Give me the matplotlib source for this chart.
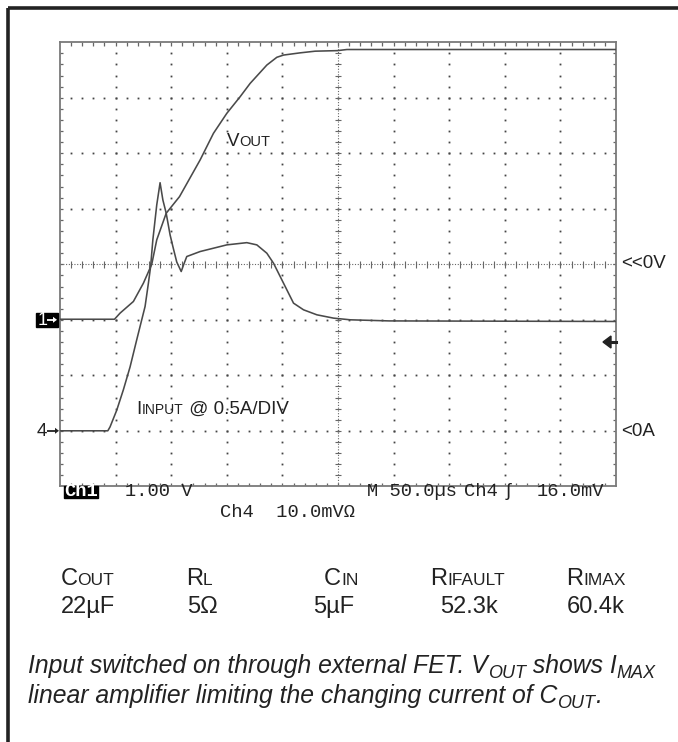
import numpy as np
import matplotlib.pyplot as plt
from matplotlib.patches import Rectangle, Polygon

W, H = 678, 742

# Scope traces in screen divisions (10 x 8 graticule)
vout_x = [0.0, 0.98, 1.08, 1.32, 1.50, 1.65, 1.74, 1.91, 2.15, 2.52, 2.76, 3.00,
          3.24, 3.42, 3.72, 3.90, 4.02, 4.32, 4.59, 4.99, 5.16, 10.0]
vout_y = [3.01, 3.01, 3.12, 3.33, 3.66, 4.00, 4.44, 4.92, 5.22, 5.88, 6.36, 6.72,
          7.02, 7.26, 7.59, 7.73, 7.77, 7.81, 7.84, 7.85, 7.87, 7.87]

iin_x = [0.0, 0.86, 0.90, 1.02, 1.14, 1.26, 1.38, 1.44, 1.53, 1.59, 1.63, 1.67,
         1.74, 1.80, 1.85, 1.91, 1.98, 2.03, 2.10, 2.18, 2.23, 2.28, 2.52, 3.00,
         3.36, 3.54, 3.72, 3.84, 4.02, 4.20, 4.38, 4.62, 4.92, 5.22, 5.92, 10.0]
iin_y = [1.00, 1.00, 1.07, 1.37, 1.74, 2.15, 2.64, 2.88, 3.24, 3.66, 3.96, 4.44,
         5.07, 5.47, 5.16, 4.92, 4.53, 4.32, 4.04, 3.87, 4.01, 4.14, 4.23, 4.35,
         4.39, 4.35, 4.20, 4.02, 3.66, 3.30, 3.18, 3.09, 3.03, 3.00, 2.98, 2.97]

ch1_level = 3.0
ch4_level = 1.0
trig_level = 2.6

# scope readout
readout_top = ["1.00 V", "M 50.0\u00b5s", "Ch4", "\u0283", "16.0mV"]
readout_bottom = "Ch4  10.0mV\u03a9"

# component table
head_main = ["C", "R", "C", "R", "R"]
head_sub = ["OUT", "L", "IN", "IFAULT", "IMAX"]
values = ["22\u00b5F", "5\u03a9", "5\u00b5F", "52.3k", "60.4k"]

fig = plt.figure(figsize=(W / 100, H / 100), dpi=100)
fig.patch.set_facecolor('white')

# graticule axes
sc = fig.add_axes([60 / W, (H - 486.3) / H, 556 / W, 444 / H])
sc.set_xlim(0, 10)
sc.set_ylim(0, 8)
sc.set_xticks([])
sc.set_yticks([])
for s in sc.spines.values():
    s.set_color('#7a7a7a')
    s.set_linewidth(1.3)

dot = dict(ls='none', marker='s', ms=1.3, mec='none', color='#444444')
minor = np.arange(1, 50) * 0.2
for gx in [1, 2, 3, 4, 6, 7, 8, 9]:
    yy = minor[minor < 8]
    sc.plot(np.full_like(yy, gx), yy, **dot)
for gy in [1, 2, 3, 5, 6, 7]:
    xx = minor[minor < 10]
    sc.plot(xx, np.full_like(xx, gy), **dot)

# centre cross with fine dots and small ticks
sc.plot([5, 5], [0, 8], ls=(0, (1, 1.5)), lw=0.8, color='#666666')
sc.plot([0, 10], [4, 4], ls=(0, (1, 1.5)), lw=0.8, color='#666666')
yy = minor[minor < 8]
xx = minor[minor < 10]
sc.hlines(yy, 5 - 0.06, 5 + 0.06, color='#666666', lw=0.8)
sc.vlines(xx, 4 - 0.06, 4 + 0.06, color='#666666', lw=0.8)

# edge ticks
sc.vlines(xx, 8 - 0.06, 8, color='#666666', lw=0.9)
sc.vlines(xx, 0, 0.06, color='#666666', lw=0.9)
sc.hlines(yy, 0, 0.055, color='#666666', lw=0.9)
sc.hlines(yy, 10 - 0.055, 10, color='#666666', lw=0.9)

# traces
sc.plot(iin_x, iin_y, color='#4a4a4a', lw=1.15, zorder=5)
sc.plot(vout_x, vout_y, color='#4a4a4a', lw=1.15, zorder=5)

# overlay in pixel coordinates
ov = fig.add_axes([0, 0, 1, 1], zorder=10)
ov.set_xlim(0, W)
ov.set_ylim(H, 0)
ov.axis('off')
rend = fig.canvas.get_renderer()

sans = ['Liberation Sans', 'DejaVu Sans']
mono = ['Liberation Mono', 'DejaVu Sans Mono']


def run(x, y, parts, **kw):
    # write text pieces one after another on a common baseline
    for s, size, dy in parts:
        t = ov.text(x, y + dy, s, fontsize=size, ha='left', va='baseline', **kw)
        x += t.get_window_extent(renderer=rend).width
    return x


def small_arrow(x0, x1, y, col):
    ov.plot([x0, x1 - 3], [y, y], color=col, lw=1.3, solid_capstyle='butt')
    ov.add_patch(Polygon([[x1, y], [x1 - 4, y - 3], [x1 - 4, y + 3]], closed=True,
                         color=col, lw=0))


# outer frame (left and top edges)
ov.plot([8, 8], [H, 8], color='#222222', lw=2.6, solid_capstyle='butt')
ov.plot([8, W], [8, 8], color='#222222', lw=2.6, solid_capstyle='butt')

# labels inside the screen
run(226.7, 146, [("V", 13.5, 0), ("OUT", 10.5, 0)], family=sans, color='#222222')
run(136.7, 413.5, [("I", 13.5, 0), ("INPUT", 10, 0), (" @ 0.5A/DIV", 13.5, 0)],
    family=sans, color='#222222')
ov.text(621, 264, "<<0V", fontsize=13.5, family=sans, va='center', ha='left',
        color='#222222')
ov.text(621, 431, "<0A", fontsize=13.5, family=sans, va='center', ha='left',
        color='#222222')

# channel markers
c1y = 486.3 - ch1_level * 55.5
c4y = 486.3 - ch4_level * 55.5
ov.add_patch(Rectangle((36, c1y - 7), 22, 14.5, color='black'))
ov.text(38, c1y + 5.5, "1", fontsize=13, family=sans, color='white',
        ha='left', va='baseline')
small_arrow(47, 57, c1y, 'white')
ov.text(37, c4y + 5.5, "4", fontsize=13.5, family=sans, color='#222222',
        ha='left', va='baseline')
small_arrow(47, 59, c4y, '#222222')

# trigger marker
ty = 486.3 - trig_level * 55.5
ov.add_patch(Polygon([[603, ty], [611, ty - 6], [611, ty + 6]], closed=True,
                     color='#222222'))
ov.plot([610, 616], [ty, ty], color='#222222', lw=2.2)

# readout
ov.add_patch(Rectangle((64, 485.5), 34, 12.5, color='black'))
ov.text(81, 496, "Ch1", fontsize=13.5, family=mono, color='white', ha='center',
        va='baseline', fontweight='bold')
for s, x in zip(readout_top, [125, 367, 464, 503, 537]):
    ov.text(x, 496, s, fontsize=13.5, family=mono, color='#222222', ha='left',
            va='baseline')
ov.text(220, 517, readout_bottom, fontsize=13.5, family=mono, color='#222222',
        ha='left', va='baseline')

# component table
for hm, hs, x in zip(head_main, head_sub, [60.5, 186, 324, 430, 566]):
    run(x, 585, [(hm, 17, 0), (hs, 12.5, 0)], family=sans, color='#222222')
for v, x in zip(values, [60.5, 187, 313, 440, 567]):
    ov.text(x, 613, v, fontsize=17, family=sans, color='#222222', ha='left',
            va='baseline')

# caption
cap = dict(family=sans, style='italic', color='#222222')
run(28, 673, [("Input switched on through external FET. V", 17.8, 0),
              ("OUT", 13, 5), (" shows I", 17.8, 0), ("MAX", 13, 5)], **cap)
run(28, 703, [("linear amplifier limiting the changing current of C", 17.8, 0),
              ("OUT", 13, 5), (".", 17.8, 0)], **cap)

fig.savefig('out.png', dpi=100)
